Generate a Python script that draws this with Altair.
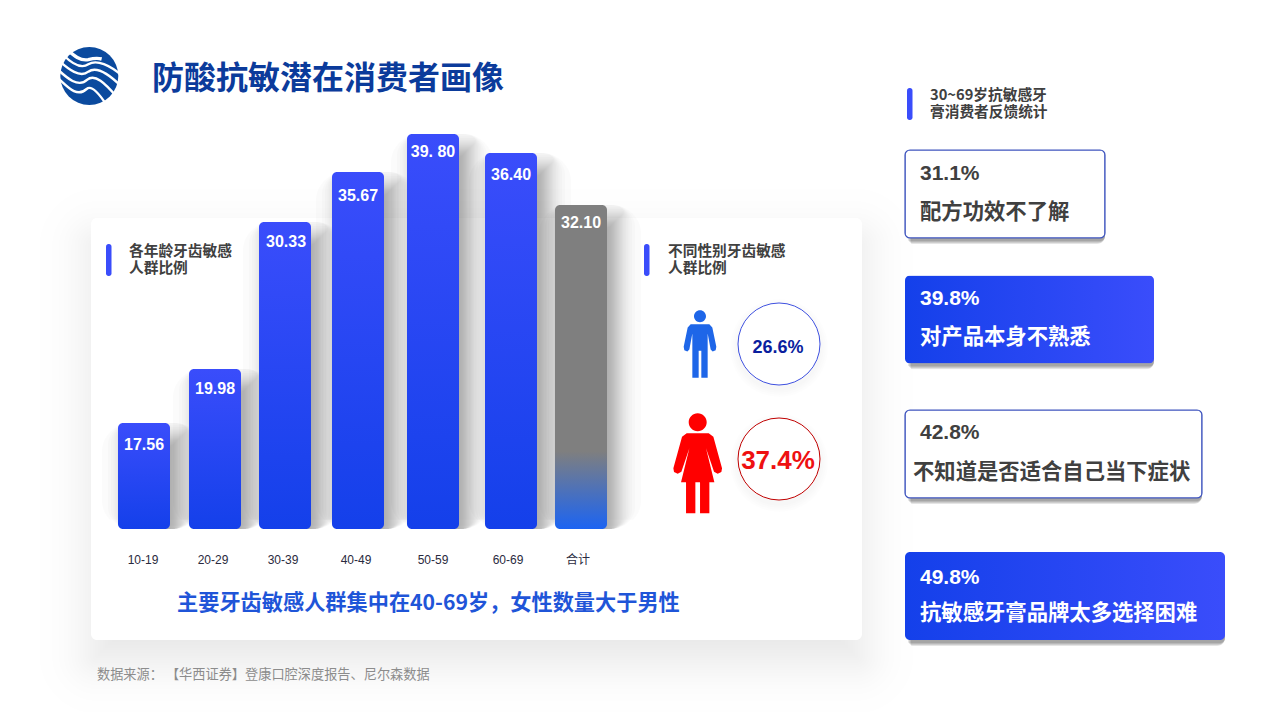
import altair as alt
import pandas as pd
from statistics import NormalDist

# ---------- data ----------
age_groups = ["10-19", "20-29", "30-39", "40-49", "50-59", "60-69", "合计"]
age_values = [17.56, 19.98, 30.33, 35.67, 39.80, 36.40, 32.10]
age_labels = ["17.56", "19.98", "30.33", "35.67", "39. 80", "36.40", "32.10"]
gender_labels = ["26.6%", "37.4%"]
feedback_pct = [31.1, 39.8, 42.8, 49.8]
feedback_pct_labels = ["31.1%", "39.8%", "42.8%", "49.8%"]
feedback_text = ["配方功效不了解", "对产品本身不熟悉", "不知道是否适合自己当下症状", "抗敏感牙膏品牌太多选择困难"]

TITLE = "防酸抗敏潜在消费者画像"
INSIGHT = "主要牙齿敏感人群集中在40-69岁，女性数量大于男性"
SOURCE = "数据来源：\u00a0【华西证券】登康口腔深度报告、尼尔森数据"

CJK = "Noto Sans CJK SC"
LAT = "Liberation Sans, Noto Sans CJK SC"
BLUE_TOP = "#3A4DFB"
BLUE_BOT = "#1440EA"
M = 8  # page margin


def px(v):
    return v - M


def pscale(domain, rng):
    return alt.Scale(domain=domain, range=[px(v) for v in rng], nice=False, zero=False, padding=0)


def blur_steps(sigma, n):
    """Outward growth of each translucent layer of a soft shadow, largest first."""
    nd = NormalDist()
    return [nd.inv_cdf((i + 0.5) / n) * sigma for i in range(n - 1, -1, -1)]


one = pd.DataFrame({"k": [0]})


def deco_rect(x0, y0, x1, y1, color, opacity=1.0, r=0, **kw):
    return alt.Chart(one).mark_rect(color=color, opacity=opacity, cornerRadius=r, **kw).encode(
        x=alt.value(px(x0)), x2=alt.value(px(x1)), y=alt.value(px(y0)), y2=alt.value(px(y1)))


def label(s, x, y, size, color, weight="bold", align="left", font=CJK):
    return alt.Chart(one).mark_text(fontSize=size, color=color, fontWeight=weight, align=align,
                                    baseline="middle", font=font).encode(
        x=alt.value(px(x)), y=alt.value(px(y)), text=alt.value(s))


def circle_path(cx, cy, r):
    k = 0.5523 * r
    return (f"M {cx-r} {cy} C {cx-r} {cy-k} {cx-k} {cy-r} {cx} {cy-r} "
            f"C {cx+k} {cy-r} {cx+r} {cy-k} {cx+r} {cy} "
            f"C {cx+r} {cy+k} {cx+k} {cy+r} {cx} {cy+r} "
            f"C {cx-k} {cy+r} {cx-r} {cy+k} {cx-r} {cy} Z")


def poly_path(pts):
    return "M " + " L ".join(f"{a} {b}" for a, b in pts) + " Z"


def norm_path(path, cx, cy, half):
    out, is_x = [], True
    for tok in path.split():
        try:
            v = float(tok)
        except ValueError:
            out.append(tok)
            continue
        out.append(f"{(v-cx if is_x else v-cy)/half:.4f}")
        is_x = not is_x
    return " ".join(out)


def symbol(path, x, y, half_height, **kw):
    return alt.Chart(one).mark_point(shape=path, size=(2 * half_height) ** 2, opacity=1, **kw).encode(
        x=alt.value(px(x)), y=alt.value(px(y)))


layers = []

# ---------- logo ----------
layers.append(alt.Chart(one).mark_point(shape="circle", size=58 ** 2, filled=True, color="#0B4A9E", opacity=1,
                                        strokeWidth=0).encode(x=alt.value(px(89.3)), y=alt.value(px(76))))
logo_strokes = [
    ("M 10 5 C 30 20 55 50 85 44 C 100 40 110 38 125 42", 3.4),
    ("M 10 30 C 30 50 60 75 85 58 C 110 42 150 60 190 95", 2.4),
    ("M 0 50 C 25 72 60 100 85 80 C 110 62 145 85 185 125", 2.4),
    ("M -5 75 C 20 98 55 130 82 104 C 105 85 135 115 170 155", 2.4),
    ("M -5 100 C 20 122 50 160 80 132 C 95 118 120 150 140 180", 2.4),
]
for p, w in logo_strokes:
    layers.append(symbol(norm_path(p, 88, 93, 87), 89.3, 76, 29, filled=False, color="white", strokeWidth=w))

# ---------- title ----------
layers.append(label(TITLE, 152, 78.5, 32, "#0B3B9B"))

# ---------- left panel ----------
for e in blur_steps(25, 26):
    layers.append(deco_rect(91 - e, 218 - e + 22, 862 + e, 640 + e + 22, "#000000", 0.0039, r=max(6 + e, 0)))
layers.append(deco_rect(91, 218, 862, 640, "#FFFFFF", r=6))

# ---------- age bars ----------
bar_df = pd.DataFrame({"idx": range(7), "group": age_groups, "value": age_values, "text": age_labels})
bar_centers = [144, 215, 285, 358, 433, 511, 581]
y_dom = [0, 17.56, 19.98, 30.33, 32.10, 35.67, 36.40, 39.80]
y_tops = [529, 423, 369, 222, 205, 172, 153, 134]
x_q = alt.X("idx:Q", axis=None, scale=pscale(list(range(7)), bar_centers))
y_q = alt.Y("value:Q", axis=None, scale=pscale(y_dom, y_tops))

for e in blur_steps(12, 28):
    layers.append(alt.Chart(bar_df).mark_bar(orient="vertical", width=52 + 2 * e, color="#000000", opacity=0.014,
                                             cornerRadius=max(4 + e, 1), xOffset=9, yOffset=16 - e, y2Offset=16 + e)
                  .encode(x=x_q, y=y_q))


def grad(stops, horizontal=False):
    return alt.LinearGradient(gradient="linear", x1=0, x2=1 if horizontal else 0, y1=0, y2=0 if horizontal else 1,
                              stops=[alt.GradientStop(offset=o, color=c) for o, c in stops])


blue_grad = grad([(0, BLUE_TOP), (1, BLUE_BOT)])
gray_grad = grad([(0, "#7F7F7F"), (0.76, "#7F7F7F"), (1, "#1C64F2")])
layers.append(alt.Chart(bar_df[bar_df.idx < 6]).mark_bar(orient="vertical", width=52, cornerRadius=5, color=blue_grad,
                                                          opacity=1).encode(x=x_q, y=y_q))
layers.append(alt.Chart(bar_df[bar_df.idx == 6]).mark_bar(orient="vertical", width=52, cornerRadius=5, color=gray_grad,
                                                           opacity=1).encode(x=x_q, y=y_q))

# value labels and category labels have their own scales
lab_y = [445, 389, 242, 223, 196, 175, 152]
layers.append(alt.Chart(bar_df).mark_text(fontSize=16, fontWeight="bold", color="white", font=LAT, baseline="middle")
              .encode(x=alt.X("idx:Q", axis=None, scale=pscale(list(range(7)), [144, 215, 286, 358, 433, 511, 581])),
                      y=alt.Y("value:Q", axis=None, scale=pscale(y_dom[1:], lab_y)),
                      text="text:N"))
layers.append(alt.Chart(bar_df).mark_text(fontSize=12, color="#2A2A40", font=LAT, baseline="middle")
              .encode(x=alt.X("idx:Q", axis=None, scale=pscale(list(range(7)), [143, 213, 283, 356, 433, 508, 578])),
                      y=alt.value(px(560)), text="group:N"))

# ---------- headings ----------
for x0, y0, x_t, l1, l2 in [(106, 244, 129, "各年龄牙齿敏感", "人群比例"),
                            (644, 244, 668, "不同性别牙齿敏感", "人群比例"),
                            (907, 88, 930, "30~69岁抗敏感牙", "膏消费者反馈统计")]:
    layers.append(deco_rect(x0, y0, x0 + 5.5, y0 + 32, BLUE_TOP, r=2.5))
    layers.append(label(l1, x_t, y0 + 8, 14.7, "#404040"))
    layers.append(label(l2, x_t, y0 + 24.5, 14.7, "#404040"))

# ---------- gender ----------
man = circle_path(480, 378, 18) + " " + poly_path([
    (452, 402), (508, 402), (517, 412), (529, 470), (527, 480), (518, 484), (512, 478), (503, 430), (503, 563),
    (484, 563), (484, 482), (476, 482), (476, 563), (457, 563), (457, 430), (448, 478), (442, 484), (433, 480),
    (431, 470), (443, 412)])
woman = circle_path(473, 697, 27) + " " + poly_path([
    (440, 730), (506, 730), (520, 740), (546, 835), (544, 846), (533, 851), (522, 845), (498, 775), (523, 877),
    (508, 877), (508, 970), (480, 970), (480, 877), (466, 877), (466, 970), (438, 970), (438, 877), (423, 877),
    (448, 775), (424, 845), (413, 851), (402, 846), (400, 835), (426, 740)])
layers.append(symbol(norm_path(man, 480, 461.5, 101.5), 700, 344, 33.8, filled=True, color="#1E66E8", strokeWidth=0))
layers.append(symbol(norm_path(woman, 473, 820, 150), 697.7, 463.3, 50, filled=True, color="#FF0000", strokeWidth=0))

for cx, cy, col, txt, col2, fs in [(779, 344, "#3F51E0", gender_labels[0], "#0A1E9E", 18),
                                   (779, 459, "#C00000", gender_labels[1], "#EE1111", 26)]:
    for e in range(8, 0, -2):
        layers.append(alt.Chart(one).mark_point(shape="circle", size=(82 + 2 * e) ** 2, filled=True, color="#000000",
                                                opacity=0.006, strokeWidth=0)
                      .encode(x=alt.value(px(cx)), y=alt.value(px(cy + 4))))
    layers.append(alt.Chart(one).mark_point(shape="circle", size=82 ** 2, filled=True, fill="#FFFFFF", stroke=col,
                                            strokeWidth=1, opacity=1).encode(x=alt.value(px(cx)), y=alt.value(px(cy))))
    layers.append(label(txt, cx - 1, cy + 3.5 if fs == 18 else cy + 1.5, fs, col2, font=LAT, align="center"))

# ---------- insight and source ----------
layers.append(label(INSIGHT, 177, 603.5, 21.2, "#1F55D8"))
layers.append(label(SOURCE, 97, 675, 13.2, "#8C8C8C", weight="normal"))

# ---------- feedback cards ----------
card_df = pd.DataFrame({"idx": range(4), "pct": feedback_pct, "pct_label": feedback_pct_labels, "text": feedback_text})
card_x = alt.X("pct:Q", axis=None, scale=pscale([0] + feedback_pct, [905, 1105, 1154, 1202, 1225]))
card_y = alt.Y("idx:Q", axis=None, scale=pscale([0, 1, 2, 3], [194, 319.5, 454, 596]))
for e in [3, 2, 1, 0]:
    layers.append(alt.Chart(card_df).mark_bar(orient="horizontal", height=88 + 2 * e, color="#000000", opacity=0.1,
                                              cornerRadius=5 + e, xOffset=3 + e, x2Offset=3 - e, yOffset=3)
                  .encode(x=card_x, y=card_y))
h_grad = grad([(0, BLUE_BOT), (1, BLUE_TOP)], horizontal=True)
outlined = card_df[card_df.idx % 2 == 0]
filled = card_df[card_df.idx % 2 == 1]
layers.append(alt.Chart(outlined).mark_bar(orient="horizontal", height=88, cornerRadius=5, fill="#FFFFFF",
                                           stroke="#3F55BE", strokeWidth=1.2, opacity=1).encode(x=card_x, y=card_y))
layers.append(alt.Chart(filled).mark_bar(orient="horizontal", height=88, cornerRadius=5, color=h_grad, opacity=1)
              .encode(x=card_x, y=card_y))

pct_y = alt.Y("idx:Q", axis=None, scale=pscale([0, 1, 2, 3], [174, 299, 433, 578]))
txt_y = alt.Y("idx:Q", axis=None, scale=pscale([0, 1, 2, 3], [213, 338, 473, 614]))
txt_x = alt.X("idx:Q", axis=None, scale=pscale([0, 1, 2, 3], [920, 920, 913, 920]))
for sub, col in [(outlined, "#404040"), (filled, "#FFFFFF")]:
    layers.append(alt.Chart(sub).mark_text(fontSize=21, fontWeight="bold", color=col, font=LAT, align="left",
                                           baseline="middle")
                  .encode(x=alt.value(px(920)), y=pct_y, text="pct_label:N"))
    layers.append(alt.Chart(sub).mark_text(fontSize=21.33, fontWeight="bold", color=col, font=CJK, align="left",
                                           baseline="middle")
                  .encode(x=txt_x, y=txt_y, text="text:N"))

chart = (alt.layer(*layers)
         .resolve_scale(x="independent", y="independent")
         .properties(width=1264, height=704, padding=0, background="#FFFFFF",
                     autosize=alt.AutoSizeParams(type="none"))
         .configure_view(stroke=None))

chart.save("out.html", embed_options={"renderer": "svg", "actions": False})
